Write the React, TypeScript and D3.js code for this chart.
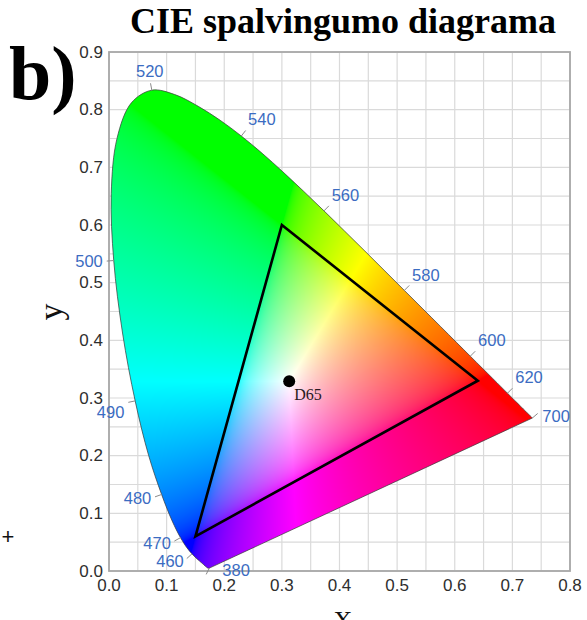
import React, { useMemo } from 'react';
import * as d3 from 'd3';

// CIE 1931 2° spectral locus, 380–700 nm in 5 nm steps
const WAVELENGTHS = [
  380, 385, 390, 395, 400, 405, 410, 415, 420, 425, 430, 435, 440, 445, 450, 455,
  460, 465, 470, 475, 480, 485, 490, 495, 500, 505, 510, 515, 520, 525, 530, 535,
  540, 545, 550, 555, 560, 565, 570, 575, 580, 585, 590, 595, 600, 605, 610, 615,
  620, 625, 630, 635, 640, 645, 650, 655, 660, 665, 670, 675, 680, 685, 690, 695, 700,
];
const LOCUS_X = [
  0.1741, 0.174, 0.1738, 0.1736, 0.1733, 0.173, 0.1726, 0.1721, 0.1714, 0.1703, 0.1689, 0.1669, 0.1644, 0.1611, 0.1566, 0.151,
  0.144, 0.1355, 0.1241, 0.1096, 0.0913, 0.0687, 0.0454, 0.0235, 0.0082, 0.0039, 0.0139, 0.0389, 0.0743, 0.1142, 0.1547, 0.1929,
  0.2296, 0.2658, 0.3016, 0.3373, 0.3731, 0.4087, 0.4441, 0.4788, 0.5125, 0.5448, 0.5752, 0.6029, 0.627, 0.6482, 0.6658, 0.6801,
  0.6915, 0.7006, 0.7079, 0.714, 0.719, 0.723, 0.726, 0.7283, 0.73, 0.7311, 0.732, 0.7327, 0.7334, 0.734, 0.7344, 0.7346, 0.7347,
];
const LOCUS_Y = [
  0.005, 0.005, 0.0049, 0.0049, 0.0048, 0.0048, 0.0048, 0.0048, 0.0051, 0.0058, 0.0069, 0.0086, 0.0109, 0.0138, 0.0177, 0.0227,
  0.0297, 0.0399, 0.0578, 0.0868, 0.1327, 0.2007, 0.295, 0.4127, 0.5384, 0.6548, 0.7502, 0.812, 0.8338, 0.8262, 0.8059, 0.7816,
  0.7543, 0.7243, 0.6923, 0.6589, 0.6245, 0.5896, 0.5547, 0.5202, 0.4866, 0.4544, 0.4242, 0.3965, 0.3725, 0.3514, 0.334, 0.3197,
  0.3083, 0.2993, 0.292, 0.2859, 0.2809, 0.277, 0.274, 0.2717, 0.27, 0.2689, 0.268, 0.2673, 0.2666, 0.266, 0.2656, 0.2654, 0.2653,
];
const LABELLED_NM = [380, 460, 470, 480, 490, 500, 520, 540, 560, 580, 600, 620, 700];

const X_TICKS = [0, 0.1, 0.2, 0.3, 0.4, 0.5, 0.6, 0.7, 0.8];
const Y_TICKS = [0, 0.1, 0.2, 0.3, 0.4, 0.5, 0.6, 0.7, 0.8, 0.9];

// sRGB primaries (R, G, B) and the D65 white point
const GAMUT_X = [0.64, 0.3, 0.15];
const GAMUT_Y = [0.33, 0.6, 0.06];
const WHITE_X = 0.3127;
const WHITE_Y = 0.329;
const WHITE_NAME = 'D65';

const TITLE = 'CIE spalvingumo diagrama';
const PANEL = 'b)';

const W = 587;
const H = 620;
const xScale = d3.scaleLinear().domain([0, 0.8]).range([109, 570]);
const yScale = d3.scaleLinear().domain([0, 0.9]).range([571, 52]);

const SANS = '"Liberation Sans", Arial, Helvetica, sans-serif';
const SERIF = '"Liberation Serif", "Times New Roman", Times, serif';
const LABEL_BLUE = '#3b6cc2';
const TICK_FONT = 17;
const NM_FONT = 16.5;

function gammaEncode(c: number) {
  return c <= 0.0031308 ? 12.92 * c : 1.055 * Math.pow(c, 1 / 2.4) - 0.055;
}

// Chromaticity -> displayable sRGB, full brightness, negative components clipped
function chromaToRgb(x: number, y: number): [number, number, number] {
  const X = x / y;
  const Y = 1;
  const Z = (1 - x - y) / y;
  let r = 3.2406 * X - 1.5372 * Y - 0.4986 * Z;
  let g = -0.9689 * X + 1.8758 * Y + 0.0415 * Z;
  let b = 0.0557 * X - 0.204 * Y + 1.057 * Z;
  r = Math.max(0, r);
  g = Math.max(0, g);
  b = Math.max(0, b);
  const m = Math.max(r, g, b) || 1;
  return [gammaEncode(r / m), gammaEncode(g / m), gammaEncode(b / m)];
}

function buildColourField(): { href: string; x: number; y: number; w: number; h: number } {
  const x0 = Math.floor(xScale(0));
  const y0 = Math.floor(yScale(0.9));
  const w = Math.ceil(xScale(0.8)) - x0;
  const h = Math.ceil(yScale(0)) - y0;
  if (typeof document === 'undefined') return { href: '', x: x0, y: y0, w, h };
  const canvas = document.createElement('canvas');
  canvas.width = w;
  canvas.height = h;
  const ctx = canvas.getContext('2d');
  if (!ctx) return { href: '', x: x0, y: y0, w, h };
  const img = ctx.createImageData(w, h);
  for (let py = 0; py < h; py++) {
    const cy = yScale.invert(y0 + py + 0.5);
    for (let px = 0; px < w; px++) {
      const cx = xScale.invert(x0 + px + 0.5);
      const k = (py * w + px) * 4;
      if (cy <= 0.001) {
        img.data[k + 3] = 0;
        continue;
      }
      const [r, g, b] = chromaToRgb(cx, cy);
      img.data[k] = Math.round(255 * Math.min(1, r));
      img.data[k + 1] = Math.round(255 * Math.min(1, g));
      img.data[k + 2] = Math.round(255 * Math.min(1, b));
      img.data[k + 3] = 255;
    }
  }
  ctx.putImageData(img, 0, 0);
  return { href: canvas.toDataURL(), x: x0, y: y0, w, h };
}

export default function App() {
  const field = useMemo(buildColourField, []);

  const locusPts: [number, number][] = LOCUS_X.map((x, i) => [xScale(x), yScale(LOCUS_Y[i])]);
  const locusPath = (d3.line().curve(d3.curveCatmullRom.alpha(0.5))(locusPts) || '') + 'Z';

  const gridX = d3.range(0, 16 + 1).map((i) => i * 0.05);
  const gridY = d3.range(0, 18 + 1).map((i) => i * 0.05);

  const gamutPath =
    (d3.line()(GAMUT_X.map((x, i) => [xScale(x), yScale(GAMUT_Y[i])] as [number, number])) || '') + 'Z';

  // boxes of the y-axis tick labels, used to keep wavelength labels clear of them
  const yLabelBoxes = Y_TICKS.map((v) => ({
    x0: xScale(0) - 6 - 26,
    x1: xScale(0) - 6,
    y0: yScale(v) - 7,
    y1: yScale(v) + 7,
  }));

  // wavelength markers: short tick pointing away from the locus, label beyond it
  const markers = LABELLED_NM.map((nm) => {
    const i = WAVELENGTHS.indexOf(nm);
    const p = locusPts[i];
    let nx: number;
    let ny: number;
    let lx: number;
    let ly: number;
    let anchor: 'start' | 'middle' | 'end' = 'middle';
    if (i === 0) {
      nx = -0.45;
      ny = 0.9;
      lx = p[0] + 13;
      ly = p[1] + 1.5;
      anchor = 'start';
    } else if (i === WAVELENGTHS.length - 1) {
      nx = 0.76;
      ny = -0.65;
      lx = p[0] + 10;
      ly = p[1] - 2;
      anchor = 'start';
    } else {
      const a = locusPts[i - 1];
      const b = locusPts[i + 1];
      const tx = b[0] - a[0];
      const ty = b[1] - a[1];
      const len = Math.hypot(tx, ty);
      nx = ty / len;
      ny = -tx / len;
      lx = p[0] + nx * 11;
      ly = p[1] + ny * 11 + (ny < -0.4 ? -8 : 0);
      anchor = nx > 0.4 ? 'start' : nx < -0.4 ? 'end' : 'middle';
      // nudge down if the label would sit on a y-axis tick label
      const tw = 28;
      const bx0 = anchor === 'end' ? lx - tw : anchor === 'start' ? lx : lx - tw / 2;
      const bx1 = bx0 + tw;
      for (const bb of yLabelBoxes) {
        if (bx0 < bb.x1 && bx1 > bb.x0 && ly - 6 < bb.y1 && ly + 6 > bb.y0) {
          ly = bb.y1 + 6.5;
        }
      }
    }
    const nl = Math.hypot(nx, ny);
    nx /= nl;
    ny /= nl;
    return { nm, p, nx, ny, lx, ly, anchor };
  });

  const wx = xScale(WHITE_X);
  const wy = yScale(WHITE_Y);

  return (
    <svg width={W} height={H} viewBox={`0 0 ${W} ${H}`} style={{ display: 'block', position: 'absolute', left: 0, top: 0 }}>
      <rect x={0} y={0} width={W} height={H} fill="#ffffff" />
      <defs>
        <clipPath id="locus-clip">
          <path d={locusPath} />
        </clipPath>
      </defs>

      {/* grid */}
      <g stroke="#dadada" strokeWidth={1.2}>
        {gridX.map((v) => (
          <line key={'gx' + v} x1={xScale(v)} x2={xScale(v)} y1={yScale(0)} y2={yScale(0.9)} />
        ))}
        {gridY.map((v) => (
          <line key={'gy' + v} x1={xScale(0)} x2={xScale(0.8)} y1={yScale(v)} y2={yScale(v)} />
        ))}
      </g>

      {/* chromaticity colour field inside the spectral locus */}
      {field.href && (
        <image
          href={field.href}
          x={field.x}
          y={field.y}
          width={field.w}
          height={field.h}
          clipPath="url(#locus-clip)"
          preserveAspectRatio="none"
        />
      )}
      <path d={locusPath} fill="none" stroke="#3a3a3a" strokeWidth={0.9} strokeOpacity={0.8} />

      {/* frame */}
      <rect
        x={xScale(0)}
        y={yScale(0.9)}
        width={xScale(0.8) - xScale(0)}
        height={yScale(0) - yScale(0.9)}
        fill="none"
        stroke="#a8a8a8"
        strokeWidth={1.8}
      />

      {/* wavelength ticks & labels */}
      {markers.map((m) => (
        <g key={m.nm}>
          <line
            x1={m.p[0]}
            y1={m.p[1]}
            x2={m.p[0] + m.nx * 7}
            y2={m.p[1] + m.ny * 7}
            stroke="#8a8a8a"
            strokeWidth={1}
          />
          <text
            x={m.lx}
            y={m.ly}
            textAnchor={m.anchor}
            dominantBaseline="central"
            fontFamily={SANS}
            fontSize={NM_FONT}
            fill={LABEL_BLUE}
          >
            {m.nm}
          </text>
        </g>
      ))}

      {/* gamut triangle */}
      <path d={gamutPath} fill="none" stroke="#000" strokeWidth={2.6} strokeLinejoin="miter" />

      {/* white point */}
      <circle cx={wx} cy={wy} r={6} fill="#000" />
      <text x={wx + 5} y={wy + 19} fontFamily={SERIF} fontSize={16} fill="#2a1a22">
        {WHITE_NAME}
      </text>

      {/* axes labels */}
      {Y_TICKS.map((v) => (
        <text
          key={'yt' + v}
          x={xScale(0) - 6}
          y={yScale(v)}
          textAnchor="end"
          dominantBaseline="central"
          fontFamily={SANS}
          fontSize={TICK_FONT}
          fill="#2e2e2e"
        >
          {v.toFixed(1)}
        </text>
      ))}
      {X_TICKS.map((v) => (
        <text
          key={'xt' + v}
          x={xScale(v)}
          y={yScale(0) + 20}
          textAnchor="middle"
          fontFamily={SANS}
          fontSize={TICK_FONT}
          fill="#2e2e2e"
        >
          {v.toFixed(1)}
        </text>
      ))}

      <text
        x={0}
        y={0}
        transform={`translate(62, 312) rotate(-90)`}
        textAnchor="middle"
        fontFamily={SERIF}
        fontSize={34}
        fill="#111"
      >
        y
      </text>
      <text x={343} y={629} textAnchor="middle" fontFamily={SERIF} fontSize={26} fill="#111">
        X
      </text>

      {/* title and panel letter */}
      <text x={343} y={33} textAnchor="middle" fontFamily={SERIF} fontWeight="bold" fontSize={36} fill="#000">
        {TITLE}
      </text>
      <text x={9} y={99} fontFamily={SERIF} fontWeight="bold" fontSize={76} fill="#000">
        {PANEL}
      </text>
      <text x={8} y={544} textAnchor="middle" fontFamily={SANS} fontSize={22} fill="#111">
        +
      </text>
    </svg>
  );
}
